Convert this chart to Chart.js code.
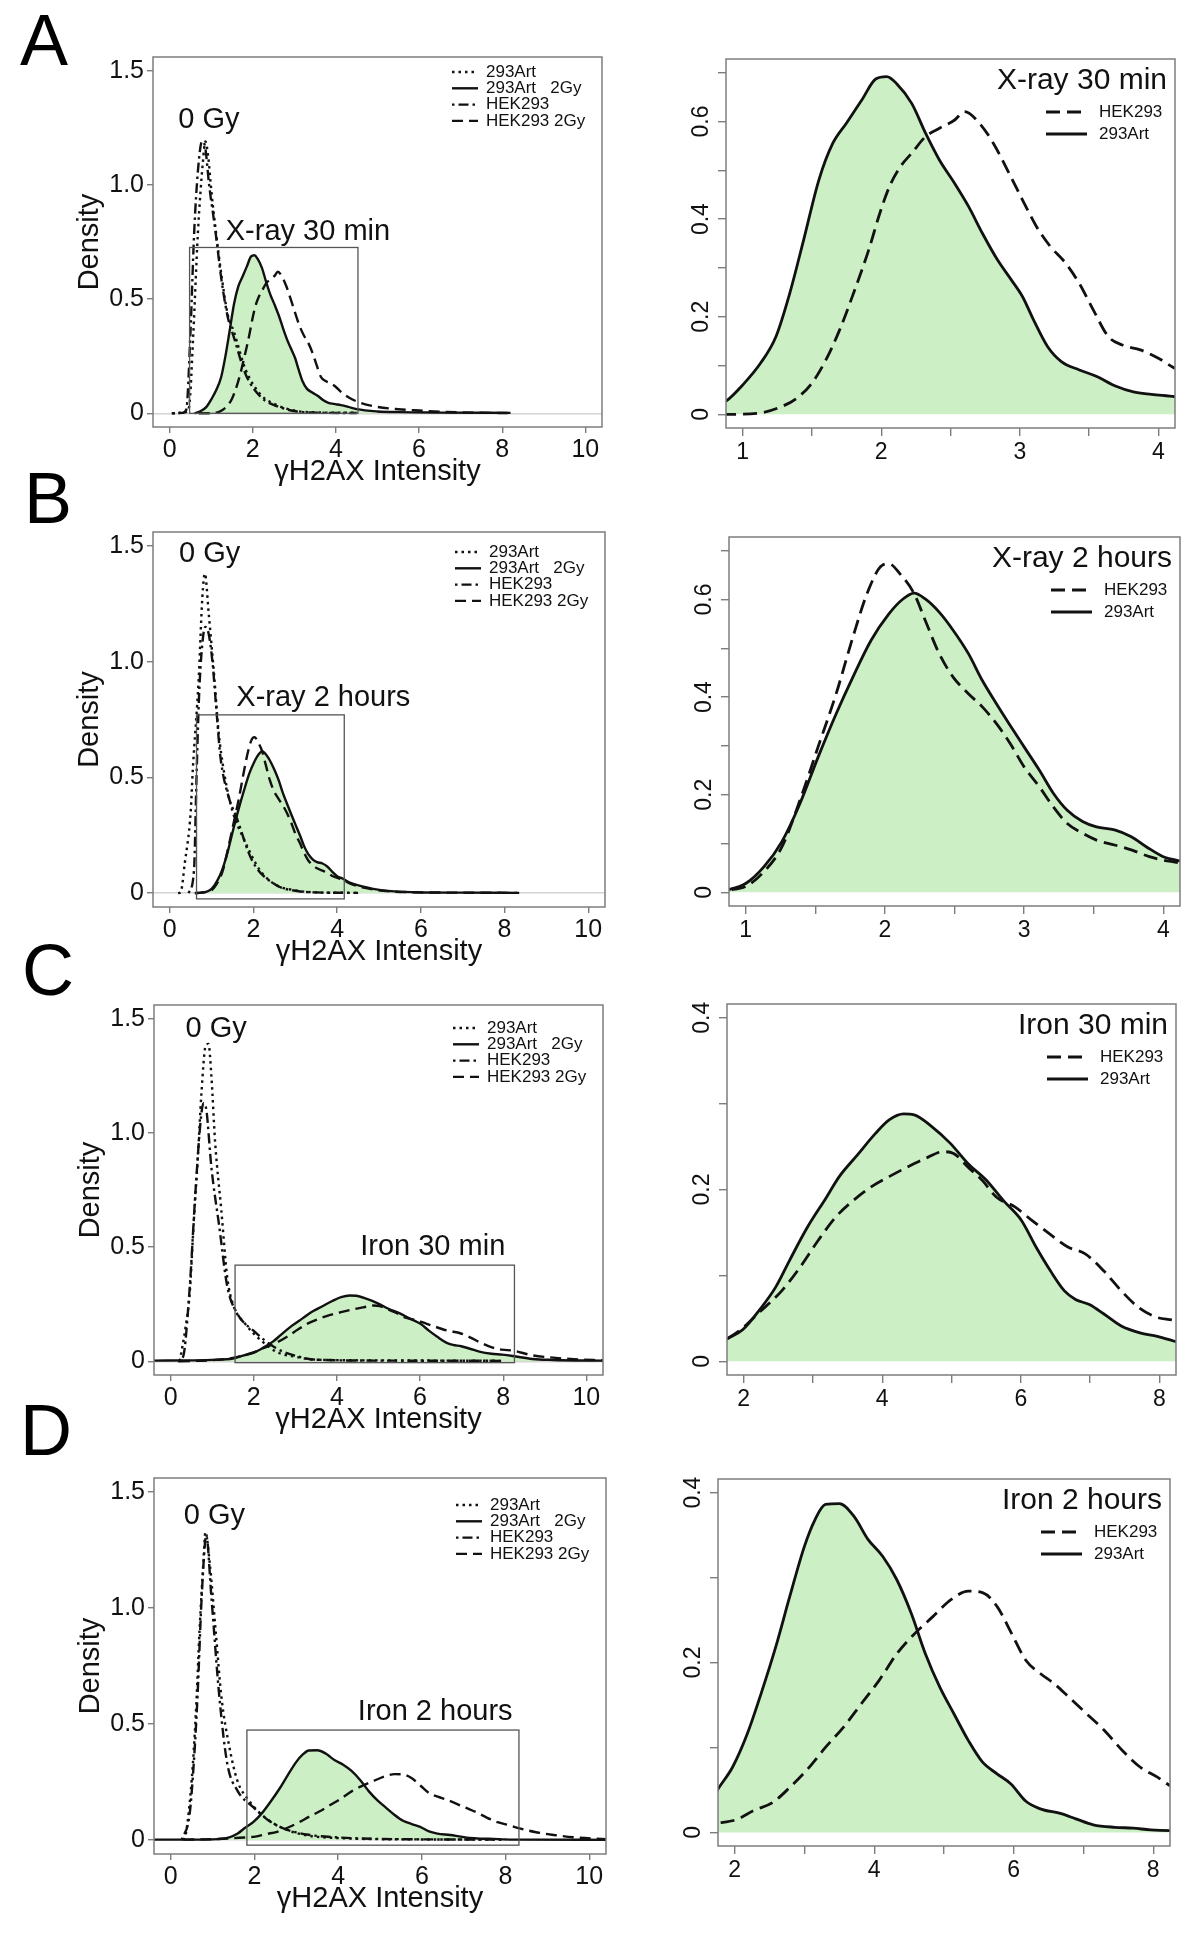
<!DOCTYPE html>
<html>
<head>
<meta charset="utf-8">
<script src="https://cdn.jsdelivr.net/npm/chart.js@4.4.1/dist/chart.umd.min.js"></script>
<style>
  body { margin: 0; background: #fff; }
  #fig { position: relative; width: 1200px; height: 1943px; font-family: "Liberation Sans", Arial, sans-serif; overflow: hidden; }
  canvas { position: absolute; }
  .tag { position: absolute; font-size: 72px; line-height: 1; color: #000; }
</style>
</head>
<body>
<div id="fig">
  <div class="tag" style="left:20px;top:4px">A</div>
  <div class="tag" style="left:24px;top:462px">B</div>
  <div class="tag" style="left:22px;top:934px">C</div>
  <div class="tag" style="left:20px;top:1394px">D</div>
  <canvas id="aL"></canvas><canvas id="aR"></canvas>
  <canvas id="bL"></canvas><canvas id="bR"></canvas>
  <canvas id="cL"></canvas><canvas id="cR"></canvas>
  <canvas id="dL"></canvas><canvas id="dR"></canvas>
</div>
<script>
// ---- labels ----
const seriesLabels = ['293Art', '293Art   2Gy', 'HEK293', 'HEK293 2Gy'];
const zoomLabels = ['HEK293', '293Art'];
const conditions = ['X-ray 30 min', 'X-ray 2 hours', 'Iron 30 min', 'Iron 2 hours'];
const doseLabel = '0 Gy';
const xTitle = 'γH2AX Intensity';
const yTitle = 'Density';

// ---- tick values / labels ----
const overviewXTicks = [0, 2, 4, 6, 8, 10];
const overviewXLabels = ['0', '2', '4', '6', '8', '10'];
const overviewYTicks = [0, 0.5, 1, 1.5];
const overviewYLabels = ['0', '0.5', '1.0', '1.5'];
const xrayZoomXTicks = [1, 1.5, 2, 2.5, 3, 3.5, 4];
const xrayZoomXLabels = ['1', '', '2', '', '3', '', '4'];
const xrayZoomYTicks = [0, 0.1, 0.2, 0.3, 0.4, 0.5, 0.6, 0.7];
const xrayZoomYLabels = ['0', '', '0.2', '', '0.4', '', '0.6', ''];
const ironZoomXTicks = [2, 3, 4, 5, 6, 7, 8];
const ironZoomXLabels = ['2', '', '4', '', '6', '', '8'];
const ironZoomYTicks = [0, 0.1, 0.2, 0.3, 0.4];
const ironZoomYLabels = ['0', '', '0.2', '', '0.4'];

// ---- density curves [intensity, density] ----
// A: X-ray 30 min
const xray30Art0 = [[0.05,0],[0.4,0.005],[0.47,0.03],[0.57,0.35],[0.68,0.79],[0.8,1.1],[0.86,1.19],[0.93,1.12],[1.0,0.98],[1.11,0.8],[1.25,0.6],[1.4,0.43],[1.54,0.36],[1.83,0.19],[2.2,0.08],[2.59,0.035],[3.06,0.01],[3.5,0.004],[4.5,0.002]];
const xray30Hek0 = [[0.07,0],[0.3,0.002],[0.4,0.015],[0.5,0.35],[0.59,0.79],[0.68,1.06],[0.78,1.19],[0.85,1.17],[0.95,1.0],[1.1,0.8],[1.25,0.58],[1.4,0.42],[1.55,0.33],[1.83,0.17],[2.2,0.07],[2.6,0.03],[3.06,0.008],[3.5,0.003],[4.5,0.001]];
const xray30Art2 = [[0.6,0],[0.75,0.01],[0.88,0.027],[1.0,0.06],[1.13,0.105],[1.24,0.159],[1.34,0.248],[1.44,0.357],[1.55,0.48],[1.65,0.555],[1.75,0.597],[1.86,0.644],[1.96,0.687],[2.04,0.692],[2.11,0.678],[2.22,0.637],[2.32,0.576],[2.42,0.521],[2.53,0.473],[2.63,0.426],[2.73,0.371],[2.84,0.316],[2.94,0.275],[3.02,0.241],[3.1,0.193],[3.2,0.139],[3.3,0.108],[3.43,0.091],[3.56,0.077],[3.69,0.058],[3.82,0.046],[3.95,0.041],[4.12,0.036],[4.3,0.028],[4.5,0.018],[5.0,0.008],[5.5,0.005],[6.5,0.003],[8.2,0.002]];
const xray30Hek2 = [[0.7,0],[0.9,0.0],[1.13,0.003],[1.29,0.017],[1.39,0.033],[1.5,0.064],[1.6,0.111],[1.7,0.173],[1.8,0.248],[1.91,0.337],[1.99,0.412],[2.06,0.467],[2.14,0.508],[2.22,0.535],[2.32,0.569],[2.42,0.586],[2.53,0.603],[2.6,0.62],[2.71,0.596],[2.81,0.555],[2.91,0.501],[3.02,0.439],[3.12,0.385],[3.22,0.344],[3.33,0.31],[3.43,0.268],[3.53,0.214],[3.64,0.159],[3.74,0.142],[3.87,0.132],[4.0,0.115],[4.12,0.094],[4.3,0.07],[4.6,0.045],[5.0,0.028],[5.5,0.018],[6.0,0.012],[6.5,0.007],[7.0,0.004],[8.2,0.001]];

// B: X-ray 2 hours
const xray2hArt0 = [[0.2,0],[0.26,0.003],[0.36,0.13],[0.5,0.35],[0.55,0.53],[0.69,0.92],[0.78,1.28],[0.84,1.38],[0.93,1.21],[1.07,0.92],[1.16,0.71],[1.3,0.52],[1.49,0.36],[1.78,0.23],[2.15,0.1],[2.53,0.036],[3.0,0.012],[3.5,0.003],[4.5,0.001]];
const xray2hHek0 = [[0.45,0],[0.58,0.1],[0.64,0.5],[0.7,0.85],[0.78,1.08],[0.85,1.15],[0.93,1.12],[1.02,1.0],[1.12,0.78],[1.21,0.59],[1.4,0.42],[1.59,0.33],[1.97,0.14],[2.53,0.036],[3.0,0.01],[3.5,0.003],[4.5,0.001]];
const xray2hArt2 = [[0.6,0],[0.75,0.002],[0.88,0.006],[1.0,0.018],[1.13,0.052],[1.26,0.104],[1.39,0.182],[1.52,0.277],[1.65,0.366],[1.77,0.441],[1.9,0.516],[2.03,0.571],[2.13,0.601],[2.21,0.613],[2.29,0.601],[2.39,0.574],[2.49,0.537],[2.6,0.489],[2.7,0.434],[2.8,0.387],[2.9,0.342],[3.0,0.298],[3.11,0.25],[3.21,0.203],[3.31,0.168],[3.42,0.145],[3.52,0.134],[3.65,0.128],[3.77,0.114],[3.88,0.093],[4.0,0.073],[4.13,0.063],[4.3,0.045],[4.6,0.029],[5.08,0.012],[5.84,0.004],[7.0,0.002],[8.35,0.001]];
const xray2hHek2 = [[0.6,0],[0.75,0.002],[0.88,0.005],[1.0,0.012],[1.13,0.042],[1.26,0.093],[1.39,0.189],[1.52,0.298],[1.65,0.407],[1.77,0.523],[1.88,0.618],[1.98,0.67],[2.03,0.673],[2.11,0.652],[2.21,0.612],[2.29,0.557],[2.39,0.489],[2.49,0.441],[2.6,0.407],[2.7,0.38],[2.8,0.346],[2.9,0.305],[3.0,0.257],[3.11,0.216],[3.21,0.175],[3.31,0.141],[3.42,0.121],[3.52,0.107],[3.65,0.097],[3.77,0.087],[3.9,0.073],[4.0,0.066],[4.13,0.059],[4.3,0.042],[4.6,0.025],[5.1,0.01],[5.8,0.004],[7.0,0.002],[8.3,0.001]];

// C: Iron 30 min
const iron30Art0 = [[0.22,0],[0.36,0.15],[0.46,0.3],[0.55,0.59],[0.65,0.88],[0.74,1.17],[0.84,1.38],[0.91,1.39],[0.98,1.25],[1.07,0.96],[1.22,0.66],[1.36,0.37],[1.5,0.25],[1.79,0.165],[2.17,0.092],[2.55,0.041],[3.02,0.019],[3.5,0.007],[5,0.004],[8,0.002]];
const iron30Hek0 = [[0.17,0],[0.3,0.02],[0.45,0.3],[0.6,0.75],[0.72,1.05],[0.79,1.13],[0.86,1.1],[0.98,0.85],[1.17,0.59],[1.36,0.33],[1.6,0.21],[1.98,0.136],[2.55,0.056],[3.11,0.019],[3.5,0.007],[5,0.003],[8,0.002]];
const iron30Art2 = [[-0.4,0.003],[0.5,0.004],[1.0,0.006],[1.5,0.012],[1.76,0.026],[1.99,0.037],[2.25,0.062],[2.46,0.086],[2.66,0.117],[2.92,0.156],[3.18,0.189],[3.38,0.215],[3.64,0.24],[3.9,0.265],[4.1,0.281],[4.31,0.288],[4.46,0.287],[4.72,0.273],[4.98,0.254],[5.24,0.23],[5.5,0.211],[5.75,0.187],[6.01,0.164],[6.22,0.133],[6.43,0.105],[6.63,0.082],[6.79,0.072],[6.99,0.066],[7.2,0.055],[7.45,0.041],[7.72,0.033],[7.97,0.029],[8.23,0.023],[8.7,0.01],[9.2,0.006],[10.4,0.003]];
const iron30Hek2 = [[0.2,0],[1.0,0.005],[1.5,0.015],[1.76,0.026],[1.99,0.039],[2.2,0.055],[2.55,0.082],[2.81,0.109],[3.07,0.14],[3.33,0.168],[3.58,0.187],[3.84,0.203],[4.1,0.215],[4.36,0.226],[4.62,0.236],[4.88,0.244],[5.03,0.242],[5.24,0.226],[5.44,0.211],[5.65,0.191],[5.91,0.18],[6.16,0.164],[6.42,0.148],[6.68,0.133],[6.93,0.125],[7.2,0.105],[7.45,0.082],[7.71,0.062],[7.97,0.051],[8.23,0.047],[8.7,0.026],[9.2,0.016],[9.7,0.009],[10.4,0.004]];

// D: Iron 2 hours
const iron2hArt0 = [[0.3,0],[0.36,0.026],[0.5,0.257],[0.6,0.546],[0.69,0.908],[0.78,1.197],[0.83,1.327],[0.93,1.197],[1.07,0.908],[1.21,0.618],[1.4,0.402],[1.59,0.257],[1.87,0.17],[2.25,0.098],[2.72,0.048],[3.29,0.019],[3.95,0.009],[5,0.004],[8,0.002]];
const iron2hHek0 = [[0.26,0],[0.45,0.11],[0.55,0.33],[0.64,0.62],[0.74,1.05],[0.85,1.31],[0.97,1.05],[1.16,0.62],[1.35,0.33],[1.59,0.214],[1.97,0.142],[2.34,0.084],[2.72,0.048],[3.29,0.023],[3.95,0.012],[5,0.005],[8,0.002]];
const iron2hArt2 = [[-0.4,0.002],[0.5,0.002],[1.0,0.003],[1.4,0.012],[1.6,0.028],[1.76,0.051],[1.97,0.077],[2.18,0.116],[2.38,0.164],[2.59,0.219],[2.79,0.278],[3.0,0.337],[3.15,0.368],[3.3,0.386],[3.5,0.387],[3.71,0.372],[3.91,0.345],[4.12,0.325],[4.32,0.298],[4.53,0.258],[4.73,0.211],[4.94,0.171],[5.14,0.14],[5.35,0.108],[5.55,0.083],[5.76,0.069],[5.96,0.057],[6.17,0.037],[6.37,0.028],[6.68,0.022],[6.89,0.016],[7.14,0.009],[7.45,0.006],[7.71,0.005],[7.96,0.003],[8.24,0.002],[10.4,0.001]];
const iron2hHek2 = [[0.3,0.002],[1.0,0.004],[1.5,0.008],[1.76,0.011],[2.02,0.015],[2.28,0.026],[2.54,0.035],[2.79,0.053],[3.05,0.075],[3.3,0.1],[3.56,0.124],[3.82,0.152],[4.07,0.179],[4.33,0.211],[4.58,0.234],[4.84,0.254],[5.1,0.274],[5.35,0.284],[5.56,0.282],[5.76,0.266],[5.97,0.234],[6.17,0.203],[6.38,0.187],[6.58,0.175],[6.78,0.16],[7.04,0.14],[7.3,0.12],[7.55,0.097],[7.81,0.077],[8.06,0.065],[8.24,0.055],[8.7,0.035],[9.15,0.022],[9.62,0.012],[10.4,0.004]];

// ---- styles ----
const FONT = '"Liberation Sans", Arial, sans-serif';
const INK = '#111';
const FRAME = '#7d7d7d';
const FILL = '#cdefc5';
const DASH = { art0: [2.5, 4], art2: [], hek0: [2.5, 4, 10, 4], hek2: [11, 6], zoomHek: [14, 7] };

Chart.defaults.font.family = FONT;
Chart.defaults.color = INK;
Chart.defaults.animation = false;

// frame, zoom box, notes, legend
const decor = {
  id: 'decor',
  afterDatasetsDraw(chart, args, opts) {
    const { ctx, chartArea: a, scales: { x, y } } = chart;
    ctx.save();
    if (opts.rect) {
      const [x0, x1, y0, y1] = opts.rect;
      const px0 = x.getPixelForValue(x0), px1 = x.getPixelForValue(x1);
      const py0 = y.getPixelForValue(y0), py1 = y.getPixelForValue(y1);
      ctx.strokeStyle = '#555';
      ctx.lineWidth = 1.3;
      ctx.strokeRect(px0, py1, px1 - px0, py0 - py1);
    }
    ctx.fillStyle = INK;
    ctx.textBaseline = 'alphabetic';
    ctx.textAlign = 'left';
    ctx.font = '29px ' + FONT;
    (opts.notes || []).forEach(n => {
      ctx.fillText(n.text, x.getPixelForValue(n.x), y.getPixelForValue(n.y));
    });
    if (opts.title) {
      ctx.font = '30px ' + FONT;
      ctx.textAlign = 'right';
      ctx.fillText(opts.title, a.right - 8, a.top + 30);
    }
    const lg = opts.legend;
    if (lg) {
      chart.data.datasets.forEach((d, i) => {
        const yy = a.top + lg.top + i * lg.gap;
        ctx.setLineDash(d.borderDash || []);
        ctx.lineWidth = d.borderWidth;
        ctx.strokeStyle = INK;
        ctx.beginPath();
        ctx.moveTo(a.right - lg.x0, yy);
        ctx.lineTo(a.right - lg.x1, yy);
        ctx.stroke();
        ctx.setLineDash([]);
        ctx.font = lg.size + 'px ' + FONT;
        ctx.textAlign = 'left';
        ctx.textBaseline = 'middle';
        ctx.fillText(d.label, a.right - lg.tx, yy);
      });
    }
    ctx.setLineDash([]);
    ctx.strokeStyle = FRAME;
    ctx.lineWidth = 1.5;
    ctx.strokeRect(a.left, a.top, a.right - a.left, a.bottom - a.top);
    ctx.restore();
  }
};

function placeCanvas(id, box, pad) {
  const c = document.getElementById(id);
  const w = pad.l + (box.r - box.l) + pad.r;
  const h = pad.t + (box.b - box.t) + pad.b;
  c.width = w;
  c.height = h;
  c.style.width = w + 'px';
  c.style.height = h + 'px';
  c.style.left = (box.l - pad.l) + 'px';
  c.style.top = (box.t - pad.t) + 'px';
  return c;
}

function axis(min, max, ticks, labels, o) {
  return {
    type: 'linear',
    min: min,
    max: max,
    afterBuildTicks: s => { s.ticks = ticks.map(v => ({ value: v })); },
    afterFit: s => {
      if (o.w) s.width = o.w;
      if (o.h) s.height = o.h;
      s.paddingTop = 0; s.paddingBottom = 0; s.paddingLeft = 0; s.paddingRight = 0;
    },
    border: { display: false },
    grid: {
      drawOnChartArea: !!o.zeroLine,
      color: o.zeroLine ? (c => (c.tick && c.tick.value === 0 ? '#d4d4d4' : 'rgba(0,0,0,0)')) : FRAME,
      tickColor: FRAME,
      tickLength: o.tl,
      tickWidth: 1.4,
      lineWidth: 1.4
    },
    ticks: {
      autoSkip: false,
      padding: o.pad,
      color: INK,
      font: { size: o.fs },
      minRotation: o.rot || 0,
      maxRotation: o.rot || 0,
      crossAlign: o.rot ? 'center' : 'near',
      callback: (v, i) => labels[i]
    },
    title: o.title
      ? { display: true, text: o.title, color: INK, font: { size: 29 }, padding: o.tpad }
      : { display: false }
  };
}

function curve(label, data, dash, width) {
  return {
    label: label,
    data: data,
    borderColor: INK,
    borderWidth: width,
    borderDash: dash,
    pointRadius: 0,
    fill: false,
    cubicInterpolationMode: 'monotone',
    order: 0
  };
}

function overviewChart(p) {
  const c = placeCanvas(p.id, p.box, { l: 80, t: 20, r: 14, b: 66 });
  const datasets = [
    curve(seriesLabels[0], p.art0, DASH.art0, 2.4),
    Object.assign(curve(seriesLabels[1], p.art2, DASH.art2, 2.4), { fill: 'origin', backgroundColor: FILL, order: 1 }),
    curve(seriesLabels[2], p.hek0, DASH.hek0, 2.4),
    curve(seriesLabels[3], p.hek2, DASH.hek2, 2.4)
  ];
  new Chart(c, {
    type: 'line',
    data: { datasets: datasets },
    options: {
      responsive: false,
      layout: { padding: { top: 20, right: 14, left: 0, bottom: 0 } },
      scales: {
        x: axis(-0.4, 10.4, overviewXTicks, overviewXLabels, { h: 66, tl: 6, pad: 2, fs: 25, title: xTitle, tpad: { top: 0, bottom: 4 } }),
        y: axis(-0.06, 1.56, overviewYTicks, overviewYLabels, { w: 80, tl: 6, pad: 3, fs: 25, zeroLine: true, title: yTitle, tpad: { top: 0, bottom: 0 } })
      },
      plugins: {
        legend: { display: false },
        tooltip: { enabled: false },
        decor: {
          rect: p.rect,
          notes: [{ text: doseLabel, x: p.dose[0], y: p.dose[1] }, { text: p.cond, x: p.note[0], y: p.note[1] }],
          legend: { top: p.legendTop, gap: 16.3, x0: 150, x1: 124, tx: 116, size: 17 }
        }
      }
    },
    plugins: [decor]
  });
}

function zoomChart(p) {
  const c = placeCanvas(p.id, p.box, { l: 45, t: 20, r: 14, b: 45 });
  const datasets = [
    curve(zoomLabels[0], p.hek2, DASH.zoomHek, 2.8),
    Object.assign(curve(zoomLabels[1], p.art2, DASH.art2, 2.8), { fill: 'origin', backgroundColor: FILL, order: 1 })
  ];
  new Chart(c, {
    type: 'line',
    data: { datasets: datasets },
    options: {
      responsive: false,
      layout: { padding: { top: 20, right: 14, left: 0, bottom: 0 } },
      scales: {
        x: axis(p.xr[0], p.xr[1], p.xt, p.xl, { h: 45, tl: 8, pad: 3, fs: 23 }),
        y: axis(p.yr[0], p.yr[1], p.yt, p.yl, { w: 45, tl: 8, pad: 0, fs: 23, rot: 90 })
      },
      plugins: {
        legend: { display: false },
        tooltip: { enabled: false },
        decor: {
          title: p.cond,
          legend: { top: 53, gap: 22, x0: 129, x1: 88, tx: 76, size: 17 }
        }
      }
    },
    plugins: [decor]
  });
}

overviewChart({ id: 'aL', box: { l: 153, t: 57, r: 602, b: 427 }, art0: xray30Art0, art2: xray30Art2, hek0: xray30Hek0, hek2: xray30Hek2,
  cond: conditions[0], dose: [0.21, 1.25], note: [1.35, 0.757], rect: [0.48, 4.53, 0, 0.726], legendTop: 15 });
overviewChart({ id: 'bL', box: { l: 153, t: 532, r: 605, b: 907 }, art0: xray2hArt0, art2: xray2hArt2, hek0: xray2hHek0, hek2: xray2hHek2,
  cond: conditions[1], dose: [0.22, 1.43], note: [1.59, 0.81], rect: [0.64, 4.17, -0.025, 0.77], legendTop: 20 });
overviewChart({ id: 'cL', box: { l: 154, t: 1005, r: 603, b: 1375 }, art0: iron30Art0, art2: iron30Art2, hek0: iron30Hek0, hek2: iron30Hek2,
  cond: conditions[2], dose: [0.36, 1.42], note: [4.56, 0.465], rect: [1.55, 8.27, -0.006, 0.421], legendTop: 23 });
overviewChart({ id: 'dL', box: { l: 154, t: 1478, r: 606, b: 1854 }, art0: iron2hArt0, art2: iron2hArt2, hek0: iron2hHek0, hek2: iron2hHek2,
  cond: conditions[3], dose: [0.31, 1.36], note: [4.47, 0.516], rect: [1.82, 8.32, -0.022, 0.474], legendTop: 27 });

zoomChart({ id: 'aR', box: { l: 726, t: 59, r: 1175, b: 428 }, art2: xray30Art2, hek2: xray30Hek2, cond: conditions[0],
  xr: [0.88, 4.12], yr: [-0.028, 0.728], xt: xrayZoomXTicks, xl: xrayZoomXLabels, yt: xrayZoomYTicks, yl: xrayZoomYLabels });
zoomChart({ id: 'bR', box: { l: 729, t: 537, r: 1180, b: 906 }, art2: xray2hArt2, hek2: xray2hHek2, cond: conditions[1],
  xr: [0.88, 4.12], yr: [-0.028, 0.728], xt: xrayZoomXTicks, xl: xrayZoomXLabels, yt: xrayZoomYTicks, yl: xrayZoomYLabels });
zoomChart({ id: 'cR', box: { l: 727, t: 1004, r: 1176, b: 1375 }, art2: iron30Art2, hek2: iron30Hek2, cond: conditions[2],
  xr: [1.76, 8.24], yr: [-0.016, 0.416], xt: ironZoomXTicks, xl: ironZoomXLabels, yt: ironZoomYTicks, yl: ironZoomYLabels });
zoomChart({ id: 'dR', box: { l: 718, t: 1479, r: 1170, b: 1846 }, art2: iron2hArt2, hek2: iron2hHek2, cond: conditions[3],
  xr: [1.76, 8.24], yr: [-0.016, 0.416], xt: ironZoomXTicks, xl: ironZoomXLabels, yt: ironZoomYTicks, yl: ironZoomYLabels });
</script>
</body>
</html>
